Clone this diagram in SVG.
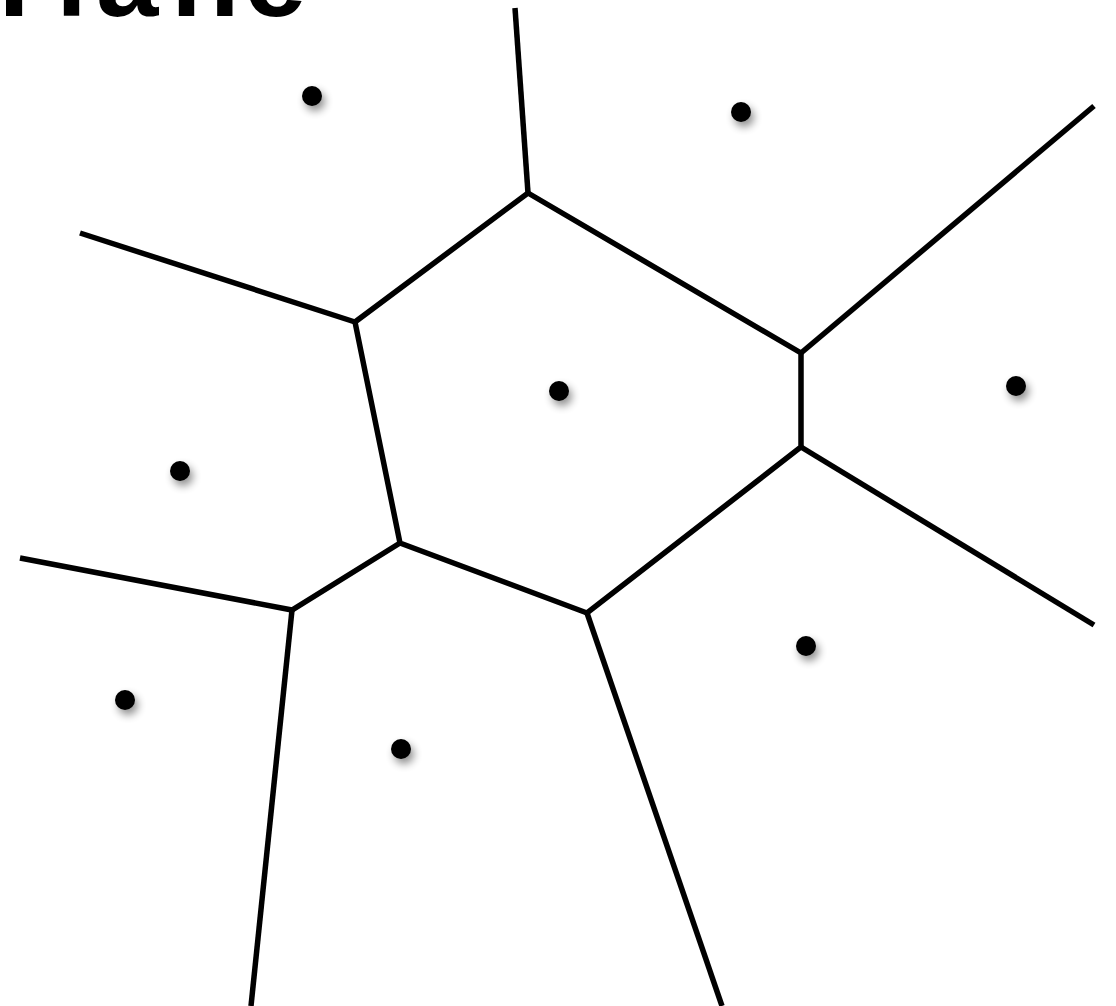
<svg xmlns="http://www.w3.org/2000/svg" width="1116" height="1006" viewBox="0 0 1116 1006">
<defs>
<style>
.edge{stroke:#000;stroke-width:5.5;fill:none;stroke-linecap:butt;stroke-linejoin:miter}
.site{fill:#000;filter:url(#sh)}
.title{font-family:"Liberation Sans",Arial,sans-serif;font-weight:bold;font-size:112px;fill:#000}
</style>
<filter id="sh" x="-100%" y="-100%" width="300%" height="300%">
<feGaussianBlur in="SourceAlpha" stdDeviation="4"/>
<feOffset dx="3" dy="5" result="b"/>
<feComponentTransfer><feFuncA type="linear" slope="0.45"/></feComponentTransfer>
<feMerge><feMergeNode/><feMergeNode in="SourceGraphic"/></feMerge>
</filter>
</defs>
<rect width="1116" height="1006" fill="#fff"/>
<text class="title" x="-1.5 56 96 171 244" y="16">Plane</text>
<g id="connectors">
<polygon class="edge" points="528,193 801,353 801,447 587,613 400,543 355,322"/>
<line class="edge" x1="528" y1="193" x2="515" y2="8"/>
<line class="edge" x1="355" y1="322" x2="80" y2="233"/>
<line class="edge" x1="801" y1="353" x2="1094" y2="106"/>
<line class="edge" x1="801" y1="447" x2="1094" y2="625"/>
<polyline class="edge" points="400,543 292,610 20,558"/>
<line class="edge" x1="292" y1="610" x2="251" y2="1006"/>
<line class="edge" x1="587" y1="613" x2="722" y2="1006"/>
</g>
<g id="site1"><circle class="site" cx="312" cy="96" r="10"/></g>
<g id="site2"><circle class="site" cx="741" cy="112" r="10"/></g>
<g id="site3"><circle class="site" cx="559" cy="391" r="10"/></g>
<g id="site4"><circle class="site" cx="1016" cy="386" r="10"/></g>
<g id="site5"><circle class="site" cx="180" cy="471" r="10"/></g>
<g id="site6"><circle class="site" cx="125" cy="700" r="10"/></g>
<g id="site7"><circle class="site" cx="401" cy="749" r="10"/></g>
<g id="site8"><circle class="site" cx="806" cy="646" r="10"/></g>
</svg>
